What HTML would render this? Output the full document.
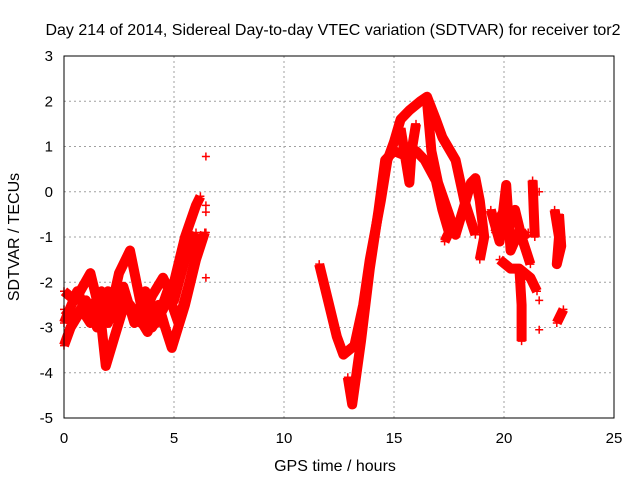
<!DOCTYPE html>
<html><head><meta charset="utf-8"><style>
body{margin:0;background:#fff}
svg{display:block;font-family:"Liberation Sans",sans-serif}
</style></head><body>
<svg id="chart" width="640" height="480">
<text x="333" y="35" font-size="16" text-anchor="middle">Day 214 of 2014, Sidereal Day-to-day VTEC variation (SDTVAR) for receiver tor2</text>
<text x="335" y="471" font-size="16" text-anchor="middle">GPS time / hours</text>
<text transform="translate(19,237) rotate(-90)" font-size="16" text-anchor="middle">SDTVAR / TECUs</text>
<g id="grid"></g><g id="marks"></g>
<rect x="64" y="56" width="550" height="362" fill="none" stroke="#000" stroke-width="1"/>
</svg>
<script>
const xTicks=[0,5,10,15,20,25];
const yTicks=[-5,-4,-3,-2,-1,0,1,2,3];
const traceA=[[0,-2.2],[0.5,-2.4],[1.2,-1.8],[1.6,-2.6],[2,-2.9],[2.5,-1.8],[3,-1.3],[3.5,-2.5],[4,-3.0],[4.5,-2.6],[5,-2.0],[5.5,-1.0],[6,-0.3],[6.2,-0.1]];
const traceB=[[0,-3.4],[0.3,-3.0],[0.8,-2.6],[1.2,-2.9],[1.6,-2.5],[1.9,-3.85],[2.3,-3.2],[2.8,-2.4],[3.3,-2.7],[3.8,-3.1],[4.3,-2.5],[4.6,-3.0],[4.9,-3.45],[5.5,-2.5],[6.0,-1.5],[6.4,-0.9]];
const traceC=[[0,-2.6],[0.5,-2.8],[1,-2.4],[1.5,-3.0],[2,-2.2],[2.5,-2.7],[3,-2.5],[3.5,-2.9],[4,-2.3],[4.5,-1.9],[5,-2.4],[5.5,-1.5],[6,-0.9]];
const traceC2=[[0,-2.9],[0.6,-2.2],[1.1,-2.7],[1.7,-2.2],[2.2,-2.8],[2.7,-2.1],[3.2,-2.9],[3.7,-2.2],[4.2,-2.9],[4.7,-2.2],[5.2,-2.9],[5.7,-2.0],[6.1,-1.2]];
const traceD=[[11.6,-1.6],[12.0,-2.4],[12.4,-3.2],[12.7,-3.6],[13.2,-3.4],[13.6,-2.5],[13.9,-1.5],[14.4,-0.2],[14.7,0.7],[15.0,1.1],[15.3,1.6],[15.7,1.8],[16.2,2.0],[16.5,2.1],[16.9,1.6],[17.2,1.2],[17.8,0.7],[18.2,-0.2],[18.7,-0.95]];
const traceE=[[12.9,-4.1],[13.1,-4.7],[13.5,-3.3],[13.9,-1.7],[14.3,-0.4],[14.6,0.7],[15.0,0.9],[15.5,0.8],[16.0,0.9],[16.4,0.7],[16.9,0.25],[17.2,-0.4],[17.5,-0.9],[17.3,-1.1]];
const traceF=[[16.5,2.0],[16.7,0.9],[17.0,0.2],[17.5,-0.5],[17.8,-0.95],[18.2,-0.3],[18.5,0.2],[18.7,0.3],[18.9,-0.2],[19.1,-1.0],[18.9,-1.5]];
const traceG=[[15.3,1.4],[15.5,0.8],[15.7,0.2],[15.8,0.9],[16.0,1.5]];
const traceH=[[19.4,-0.4],[19.8,-1.1],[20.1,0.15],[20.3,-1.3],[20.7,-0.85],[21.0,-1.3],[21.2,-1.6]];
const traceH2=[[19.6,-0.9],[19.9,-0.5],[20.2,-0.8],[20.5,-0.4],[20.8,-1.0],[21.1,-0.9]];
const traceI=[[19.8,-1.5],[20.3,-1.7],[20.7,-1.7],[21.2,-1.9],[21.5,-2.2]];
const traceJ=[[20.7,-1.7],[20.8,-2.5],[20.8,-3.3]];
const traceK=[[21.3,0.25],[21.35,-0.4],[21.4,-1.0]];
const traceL=[[22.3,-0.4],[22.5,-1.0],[22.4,-1.6],[22.6,-1.2],[22.5,-0.5]];
const traceM=[[22.4,-2.9],[22.6,-2.7],[22.7,-2.6]];
const isolated=[[6.45,0.78],[6.45,-0.3],[6.45,-0.45],[6.45,-0.9],[6.45,-1.9],[21.6,0.0],[21.6,-2.4],[21.6,-3.05]];
const traces=[traceA,traceB,traceC,traceC2,traceD,traceE,traceF,traceG,traceH,traceH2,traceI,traceJ,traceK,traceL,traceM];
const NS="http://www.w3.org/2000/svg";
const X=t=>64+t*22, Y=v=>56+(3-v)*45.25;
const grid=document.getElementById('grid'), marks=document.getElementById('marks');
xTicks.forEach(t=>{
  if(t>0&&t<25){const l=document.createElementNS(NS,'line');
  l.setAttribute('x1',X(t));l.setAttribute('x2',X(t));l.setAttribute('y1',56);l.setAttribute('y2',418);
  l.setAttribute('stroke','#a0a0a0');l.setAttribute('stroke-dasharray','2,3');
  
  grid.appendChild(l);}
  const tx=document.createElementNS(NS,'text');tx.setAttribute('x',X(t));tx.setAttribute('y',443);
  tx.setAttribute('font-size','15');tx.setAttribute('text-anchor','middle');tx.textContent=t;
  
  grid.appendChild(tx);
});
yTicks.forEach(v=>{
  if(v>-5&&v<3){const l=document.createElementNS(NS,'line');
  l.setAttribute('x1',64);l.setAttribute('x2',614);l.setAttribute('y1',Y(v));l.setAttribute('y2',Y(v));
  l.setAttribute('stroke','#a0a0a0');l.setAttribute('stroke-dasharray','2,3');
  
  grid.appendChild(l);}
  const tx=document.createElementNS(NS,'text');tx.setAttribute('x',53);tx.setAttribute('y',Y(v)+5);
  tx.setAttribute('font-size','15');tx.setAttribute('text-anchor','end');tx.textContent=v;
  
  grid.appendChild(tx);
});
function plus(t,v){const p=document.createElementNS(NS,'path');const x=X(t),y=Y(v);
  p.setAttribute('d',`M${x-4} ${y}H${x+4}M${x} ${y-4}V${y+4}`);p.setAttribute('stroke','red');p.setAttribute('stroke-width','1.5');
  
  marks.appendChild(p);}
traces.forEach(tr=>{
  const pl=document.createElementNS(NS,'polyline');
  pl.setAttribute('points',tr.map(p=>X(p[0])+','+Y(p[1])).join(' '));
  pl.setAttribute('fill','none');pl.setAttribute('stroke','red');pl.setAttribute('stroke-width','10');pl.setAttribute('stroke-linejoin','round');
  
  marks.appendChild(pl);
  tr.forEach(p=>plus(p[0],p[1]));
});
isolated.forEach(p=>plus(p[0],p[1]));
</script>
</body></html>
